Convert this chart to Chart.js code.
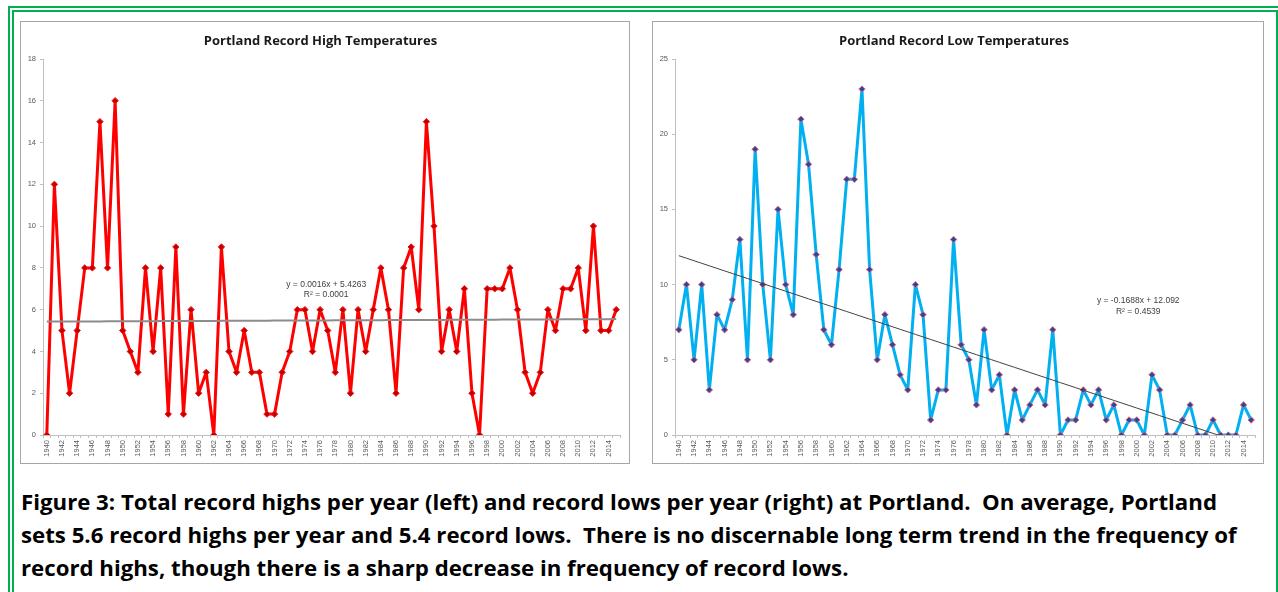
<!DOCTYPE html>
<html>
<head>
<meta charset="utf-8">
<script src="https://cdn.jsdelivr.net/npm/chart.js@4.4.1/dist/chart.umd.min.js"></script>
<style>
  html, body { margin: 0; padding: 0; background: #fff; overflow: hidden; }
  body { width: 1278px; height: 592px; position: relative; font-family: 'Open Sans', sans-serif; }
  .frame { position: absolute; left: 8px; top: 6px; width: 1274px; height: 620px; box-sizing: border-box; border: 6px double #00B050; }
  .box { position: absolute; top: 21px; height: 443px; box-sizing: border-box; border: 1px solid #A6A6A6; background: #fff; }
  #boxHigh { left: 20px; width: 610px; }
  #boxLow { left: 652px; width: 612px; }
  .caption { position: absolute; left: 21px; top: 485px; font-family: 'Open Sans', sans-serif; font-weight: bold; font-size: 21px; line-height: 33px; color: #000; white-space: nowrap; }
  .caption div { display: table; }
</style>
</head>
<body>
<div class="frame"></div>
<div class="box" id="boxHigh"><canvas id="highChart" width="608" height="441"></canvas></div>
<div class="box" id="boxLow"><canvas id="lowChart" width="610" height="441"></canvas></div>
<div class="caption" id="caption">
  <div id="capLine1">Figure 3: Total record highs per year (left) and record lows per year (right) at Portland.&nbsp; On average, Portland</div>
  <div>sets 5.6 record highs per year and 5.4 record lows.&nbsp; There is no discernable long term trend in the frequency of</div>
  <div>record highs, though there is a sharp decrease in frequency of record lows.</div>
</div>
<script>
// years 1940 - 2015
const years = ['1940','1941','1942','1943','1944','1945','1946','1947','1948','1949',
  '1950','1951','1952','1953','1954','1955','1956','1957','1958','1959',
  '1960','1961','1962','1963','1964','1965','1966','1967','1968','1969',
  '1970','1971','1972','1973','1974','1975','1976','1977','1978','1979',
  '1980','1981','1982','1983','1984','1985','1986','1987','1988','1989',
  '1990','1991','1992','1993','1994','1995','1996','1997','1998','1999',
  '2000','2001','2002','2003','2004','2005','2006','2007','2008','2009',
  '2010','2011','2012','2013','2014','2015'];

// record highs per year
const recordHighs = [0,12,5,2,5,8,8,15,8,16,
  5,4,3,8,4,8,1,9,1,6,
  2,3,0,9,4,3,5,3,3,1,
  1,3,4,6,6,4,6,5,3,6,
  2,6,4,6,8,6,2,8,9,6,
  15,10,4,6,4,7,2,0,7,7,
  7,8,6,3,2,3,6,5,7,7,
  8,5,10,5,5,6];

// record lows per year
const recordLows = [7,10,5,10,3,8,7,9,13,5,
  19,10,5,15,10,8,21,18,12,7,
  6,11,17,17,23,11,5,8,6,4,
  3,10,8,1,3,3,13,6,5,2,
  7,3,4,0,3,1,2,3,2,7,
  0,1,1,3,2,3,1,2,0,1,
  1,0,4,3,0,0,1,2,0,0,
  1,0,0,0,2,1];

// linear trendlines as shown on the charts (x = 1..76)
const highTrend = { slope: 0.0016, intercept: 5.4263, label: ['y = 0.0016x + 5.4263', 'R\u00b2 = 0.0001'] };
const lowTrend = { slope: -0.1688, intercept: 12.092, label: ['y = -0.1688x + 12.092', 'R\u00b2 = 0.4539'] };

const trendValues = t => years.map((y, i) => t.slope * (i + 1) + t.intercept);

// draws the trendline equation text at a data position
const trendLabelPlugin = {
  id: 'trendLabel',
  afterDatasetsDraw(chart, args, opts) {
    if (!opts || !opts.lines) return;
    const ctx = chart.ctx;
    const px = chart.scales.x.getPixelForValue(opts.x);
    const py = chart.scales.y.getPixelForValue(opts.y);
    ctx.save();
    ctx.font = '8.5px "Liberation Sans", sans-serif';
    ctx.fillStyle = '#404040';
    ctx.textAlign = 'center';
    ctx.textBaseline = 'middle';
    opts.lines.forEach((line, i) => ctx.fillText(line, px, py + i * 10.5));
    ctx.restore();
  }
};

function makeConfig(title, values, trend, yMax, yStep, style, labelPos, rightPad) {
  return {
    type: 'line',
    data: {
      labels: years,
      datasets: [{
        data: trendValues(trend),
        borderColor: style.trendColor,
        borderWidth: style.trendWidth,
        pointRadius: 0,
        order: 0
      }, {
        data: values,
        borderColor: style.line,
        borderWidth: 3,
        borderJoinStyle: 'round',
        pointStyle: 'rectRot',
        pointRadius: 3.2,
        pointBackgroundColor: style.pointFill,
        pointBorderColor: style.pointBorder,
        pointBorderWidth: 1,
        tension: 0,
        order: 1
      }]
    },
    options: {
      responsive: false,
      animation: false,
      events: [],
      layout: { padding: { left: 0, right: rightPad, top: 0, bottom: 4 } },
      scales: {
        x: {
          offset: true,
          afterFit: s => { s.height = 24; },
          border: { color: '#BFBFBF', width: 1 },
          grid: { offset: true, drawOnChartArea: false, tickLength: 3, color: '#BFBFBF' },
          ticks: {
            autoSkip: false,
            minRotation: 90,
            maxRotation: 90,
            padding: 2,
            color: '#595959',
            font: { family: '"Liberation Sans", sans-serif', size: 7.5 },
            callback: function(value, index) { return index % 2 === 0 ? this.getLabelForValue(value) : ''; }
          }
        },
        y: {
          min: 0,
          max: yMax,
          afterFit: s => { s.width = 22; },
          border: { color: '#BFBFBF', width: 1 },
          grid: { drawOnChartArea: false, tickLength: 3, color: '#BFBFBF' },
          ticks: {
            stepSize: yStep,
            padding: 4,
            color: '#595959',
            font: { family: '"Liberation Sans", sans-serif', size: 7.5 }
          }
        }
      },
      plugins: {
        legend: { display: false },
        tooltip: { enabled: false },
        title: {
          display: true,
          text: title,
          color: '#1a1a1a',
          font: { family: '"Open Sans", sans-serif', size: 13, weight: 'bold', lineHeight: 1.2 },
          padding: { top: 11, bottom: 10.4 }
        },
        trendLabel: labelPos
      }
    },
    plugins: [trendLabelPlugin]
  };
}

document.addEventListener('DOMContentLoaded', function() {
  // size the caption so the first line spans the same width as in the figure
  const cap = document.getElementById('caption');
  const line1 = document.getElementById('capLine1');
  const w = line1.getBoundingClientRect().width;
  if (w > 0) {
    const size = parseFloat(getComputedStyle(cap).fontSize);
    cap.style.fontSize = (size * 1196 / w).toFixed(2) + 'px';
  }

  new Chart(document.getElementById('highChart'), makeConfig(
    'Portland Record High Temperatures', recordHighs, highTrend, 18, 2,
    { line: '#FF0000', pointFill: '#C00000', pointBorder: '#FF1010', trendColor: '#8C8C8C', trendWidth: 2 },
    { x: 36.8, y: 7.2, lines: highTrend.label }, 9));

  new Chart(document.getElementById('lowChart'), makeConfig(
    'Portland Record Low Temperatures', recordLows, lowTrend, 25, 5,
    { line: '#00B0F0', pointFill: '#1F4E9A', pointBorder: '#F06080', trendColor: '#404040', trendWidth: 1 },
    { x: 60.2, y: 8.9, lines: lowTrend.label }, 8));
});
</script>
</body>
</html>
